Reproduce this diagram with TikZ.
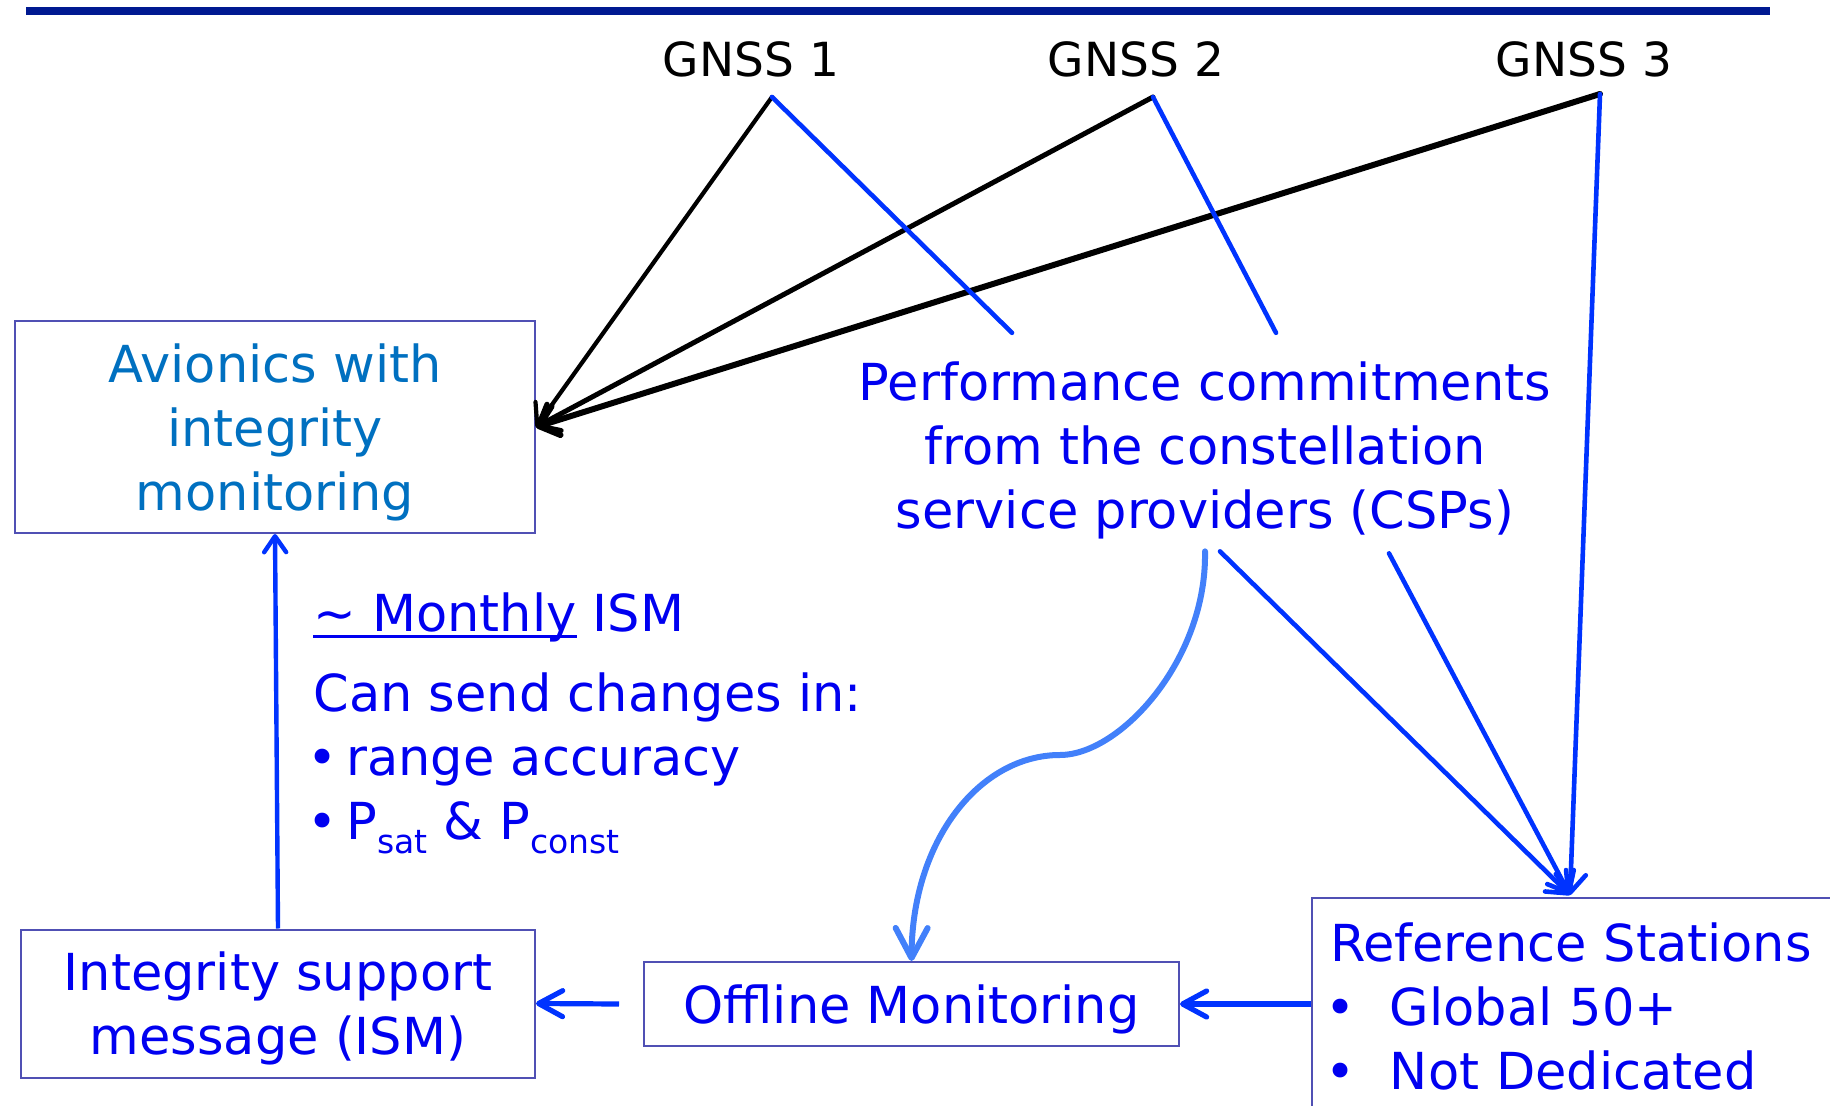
\documentclass[tikz,border=0pt]{standalone}
\usepackage{fontspec}
\setmainfont{DejaVu Sans}
\usetikzlibrary{arrows.meta,calc}
\definecolor{rulenavy}{RGB}{0,25,145}
\definecolor{txtblue}{RGB}{0,0,240}
\definecolor{avblue}{RGB}{0,112,192}
\definecolor{lnblue}{RGB}{0,51,255}
\definecolor{crvblue}{RGB}{66,128,250}
\definecolor{boxedge}{RGB}{80,80,180}
\newcommand{\myul}[1]{\setbox0\hbox{#1}\rlap{\rule[-3.6pt]{\wd0}{1.5pt}}\box0\relax}
\newcommand{\mysub}[1]{\raisebox{-7pt}{\fontsize{16.5pt}{18pt}\selectfont #1}}
\begin{document}
\begin{tikzpicture}[x=0.5pt,y=-0.5pt,
  every node/.style={font=\fontsize{25.5pt}{32pt}\selectfont},
  box/.style={draw=boxedge, line width=1pt, align=center, inner sep=0pt, text depth=0pt},
  gnss/.style={font=\fontsize{23.5pt}{28pt}\selectfont, text=black, anchor=base, inner sep=0pt},
  barb/.style={-{Straight Barb[length=9pt,width=15pt,round]}},
  blk/.style={draw=black, barb, line cap=round},
  bln/.style={draw=lnblue, line width=2.3pt, line cap=round},
  flow/.style={draw=lnblue, line width=2.6pt, -{Straight Barb[length=12pt,width=13pt,round]}},
]
\path[use as bounding box] (0,0) rectangle (1830,1106);

% top rule
\draw[rulenavy, line width=4pt] (26,11.5) -- (1770,11.5);

% GNSS labels
\node[gnss] (gn1) at (751,77) {GNSS 1};
\node[gnss] (gn2) at (1136,77) {GNSS 2};
\node[gnss] (gn3) at (1584,77) {GNSS 3};
\coordinate (g1) at (772,97);
\coordinate (g2) at (1153,97);
\coordinate (g3) at (1600,94);

% boxes
\node[box, text=avblue, minimum width=260pt, minimum height=106pt] (av) at (275,427)
  {Avionics with\\integrity\\monitoring};
\node[box, text=txtblue, minimum width=257pt, minimum height=74pt] (ism) at (278,1003.5)
  {Integrity support\\message (ISM)};
\node[box, text=txtblue, minimum width=267.5pt, minimum height=42pt] (off) at (911.5,1004)
  {Offline Monitoring};
\node[draw=boxedge, line width=1pt, anchor=north west, align=left, text=txtblue,
  text width=262pt, inner xsep=9pt, inner ysep=12.5pt] (ref) at (1311,897)
  {Reference Stations\\\makebox[30pt][l]{\hspace{-2.5pt}•}Global 50+\\\makebox[30pt][l]{\hspace{-2.5pt}•}Not Dedicated};

% CSP text
\node[align=center, text=txtblue, inner xsep=0pt, inner ysep=11pt, text depth=0pt] (csp) at (1205,445.6)
  {Performance commitments\\from the constellation\\service providers (CSPs)};

% ISM note
\node[anchor=north west, align=left, text=txtblue, inner sep=0pt] (note) at (313,592)
  {\myul{\textasciitilde\ Monthly} ISM\\[8pt]
   Can send changes in:\\
   \makebox[16.5pt][l]{\hspace{-3pt}•}range accuracy\\
   \makebox[16.5pt][l]{\hspace{-3pt}•}P\mysub{sat} \& P\mysub{const}};

% black arrows GNSS -> avionics
\draw[blk, line width=2.1pt] (g1) -- (av.east);
\draw[blk, line width=2.5pt] (g2) -- (av.east);
\draw[blk, line width=3pt] (g3) -- (av.east);

% blue lines GNSS -> CSP
\draw[bln] (g1) -- ($(csp.north)+(-193,-7)$);
\draw[bln] (g2) -- ($(csp.north)+(71,-7)$);

% arrows into reference stations
\coordinate (rtip) at ($(ref.north west)+(259,-2)$);
\draw[bln, barb] ($(csp.south)+(15,0)$) -- (rtip);
\draw[bln, barb] ($(csp.south)+(184,2)$) -- (rtip);
\draw[bln, barb] (g3) -- (rtip);

% curved arrow CSP -> offline
\draw[crvblue, line width=3pt, line cap=round, -{Straight Barb[length=15pt,width=16pt,round]}]
  (csp.south) .. controls (1207,660) and (1120,755) .. (1060,755)
  .. controls (980,755) and (912,840) .. (off.north);

% flow arrows
\draw[flow] (ref.west |- off.east) -- (off.east);
\draw[flow] ($(off.west)+(-24,0)$) -- (ism.east);
\draw[draw=lnblue, line width=2.2pt, -{Straight Barb[length=8pt,width=11pt,round]}] (ism.north) -- (av.south);
\end{tikzpicture}
\end{document}
